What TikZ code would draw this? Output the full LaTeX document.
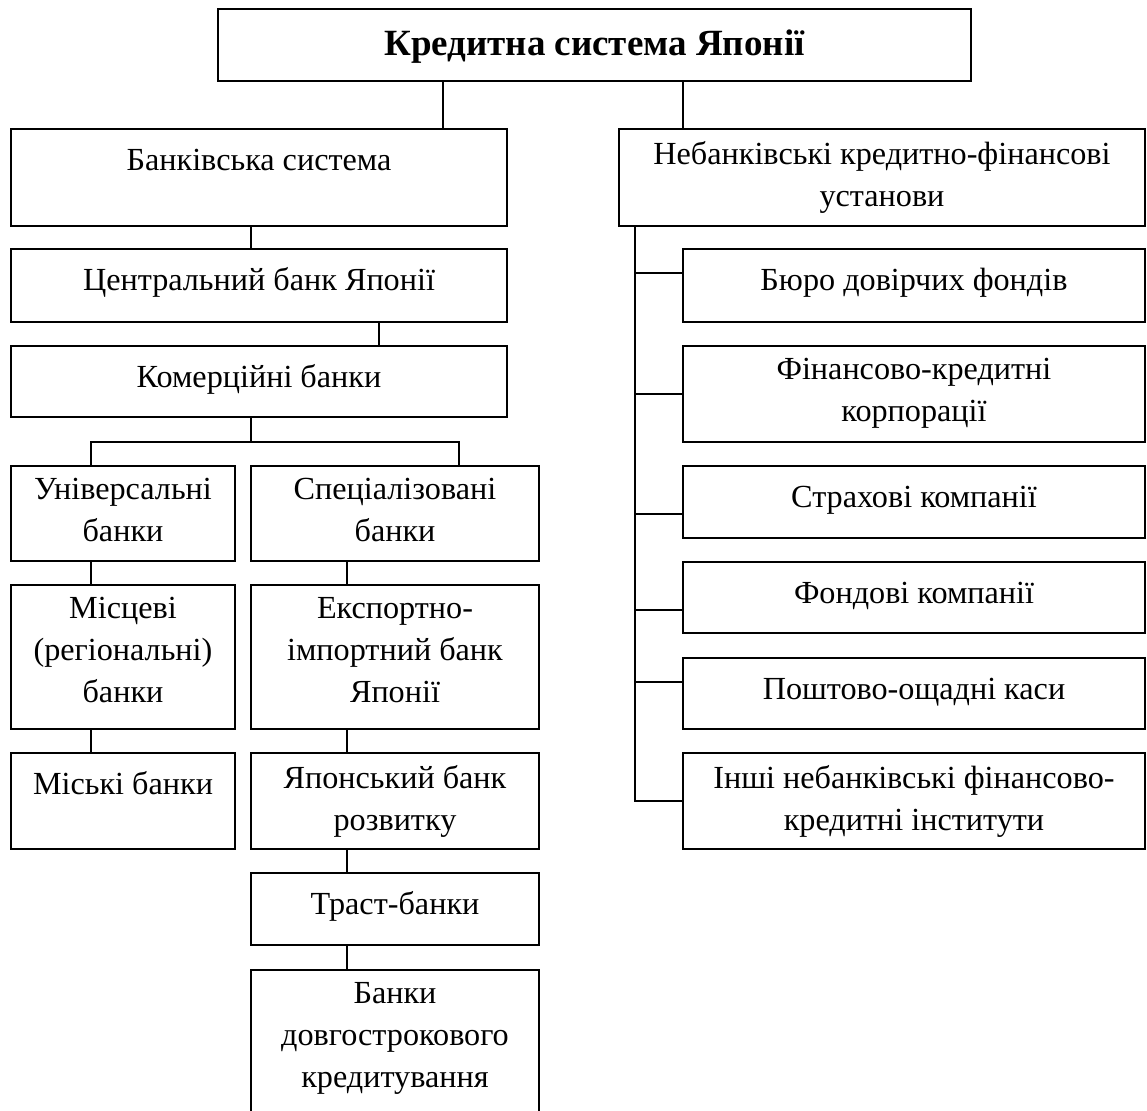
\documentclass[tikz,border=0pt]{standalone}
\usepackage{fontspec}
\setmainfont{Liberation Serif}
\newcommand\mybox[5]{\node[box, minimum width={(#4-#2)*0.5pt}, minimum height={(#5-#3)*0.5pt}] (#1) at ({(#2+#4)/2},{(#3+#5)/2}) {};}
\newcommand\mytext[3]{\begin{scope}\clip ([yshift=5.3pt]#2.south west) rectangle (#2.north east);
  \node[txt] (#1) at ([yshift=-5.8pt]#2.north) {#3};\end{scope}}
\begin{document}
\begin{tikzpicture}[x=0.5pt,y=-0.5pt,
  box/.style={draw, line width=1pt, rectangle, inner sep=0pt, outer sep=0pt},
  txt/.style={anchor=north, inner sep=0pt, align=center, font=\fontsize{16.1}{21}\selectfont, execute at begin node=\strut},
  ttl/.style={anchor=north, inner sep=0pt, align=center, font=\fontsize{18.5}{21}\selectfont\bfseries, execute at begin node=\strut},
  conn/.style={line width=1pt}]
\useasboundingbox (0,0) rectangle (1147,1110);
\clip (0,0) rectangle (1147,1110);
% boxes
\mybox{title}{218}{9}{971}{81}
\mybox{bank}{11}{129}{507}{226}
\mybox{nonbank}{619}{129}{1145}{226}
\mybox{central}{11}{249}{507}{322}
\mybox{comm}{11}{346}{507}{417}
\mybox{univ}{11}{466}{235}{561}
\mybox{spec}{251}{466}{539}{561}
\mybox{local}{11}{585}{235}{729}
\mybox{city}{11}{753}{235}{849}
\mybox{export}{251}{585}{539}{729}
\mybox{devel}{251}{753}{539}{849}
\mybox{trust}{251}{873}{539}{945}
\mybox{longterm}{251}{970}{539}{1140}
\mybox{bureau}{683}{249}{1145}{322}
\mybox{fincorp}{683}{346}{1145}{442}
\mybox{insur}{683}{466}{1145}{538}
\mybox{stock}{683}{562}{1145}{633}
\mybox{postal}{683}{658}{1145}{729}
\mybox{other}{683}{753}{1145}{849}
% texts
\begin{scope}\node[ttl] (ttitle) at ([yshift=-8.3pt]title.north) {Кредитна система Японії};\end{scope}
\mytext{tbank}{bank}{Банківська система}
\mytext{tnonbank}{nonbank}{Небанківські кредитно-фінансові\\установи}
\mytext{tcentral}{central}{Центральний банк Японії}
\mytext{tcomm}{comm}{Комерційні банки}
\mytext{tuniv}{univ}{Універсальні\\банки}
\mytext{tspec}{spec}{Спеціалізовані\\банки}
\mytext{tlocal}{local}{Місцеві\\(регіональні)\\банки}
\mytext{tcity}{city}{Міські банки}
\mytext{texport}{export}{Експортно-\\імпортний банк\\Японії}
\mytext{tdevel}{devel}{Японський банк\\розвитку}
\mytext{ttrust}{trust}{Траст-банки}
\mytext{tlongterm}{longterm}{Банки\\довгострокового\\кредитування}
\mytext{tbureau}{bureau}{Бюро довірчих фондів}
\mytext{tfincorp}{fincorp}{Фінансово-кредитні\\корпорації}
\mytext{tinsur}{insur}{Страхові компанії}
\mytext{tstock}{stock}{Фондові компанії}
\mytext{tpostal}{postal}{Поштово-ощадні каси}
\mytext{tother}{other}{Інші небанківські фінансово-\\кредитні інститути}
% connector x positions
\coordinate (xa) at (443,0);
\coordinate (xb) at (683,0);
\coordinate (xc) at (251,0);
\coordinate (xd) at (379,0);
\coordinate (xe) at (91,0);
\coordinate (xf) at (459,0);
\coordinate (xg) at (347,0);
\coordinate (xt) at (635,0);
\coordinate (bus) at (0,442);
% connectors
\draw[conn] (title.south -| xa) -- (bank.north -| xa);
\draw[conn] (title.south -| xb) -- (nonbank.north -| xb);
\draw[conn] (bank.south -| xc) -- (central.north -| xc);
\draw[conn] (central.south -| xd) -- (comm.north -| xd);
\draw[conn] (comm.south -| xc) -- (bus -| xc);
\draw[conn] (univ.north -| xe) -- (bus -| xe) -- (bus -| xf) -- (spec.north -| xf);
\draw[conn] (univ.south -| xe) -- (local.north -| xe);
\draw[conn] (local.south -| xe) -- (city.north -| xe);
\draw[conn] (spec.south -| xg) -- (export.north -| xg);
\draw[conn] (export.south -| xg) -- (devel.north -| xg);
\draw[conn] (devel.south -| xg) -- (trust.north -| xg);
\draw[conn] (trust.south -| xg) -- (longterm.north -| xg);
\coordinate (ybu) at (0,273);
\coordinate (yfi) at (0,394);
\coordinate (yin) at (0,514);
\coordinate (yst) at (0,610);
\coordinate (ypo) at (0,682);
\coordinate (yot) at (0,801);
\draw[conn] (nonbank.south -| xt) -- (yot -| xt) -- (yot -| other.west);
\draw[conn] (ybu -| xt) -- (ybu -| bureau.west);
\draw[conn] (yfi -| xt) -- (yfi -| fincorp.west);
\draw[conn] (yin -| xt) -- (yin -| insur.west);
\draw[conn] (yst -| xt) -- (yst -| stock.west);
\draw[conn] (ypo -| xt) -- (ypo -| postal.west);
\end{tikzpicture}
\end{document}
